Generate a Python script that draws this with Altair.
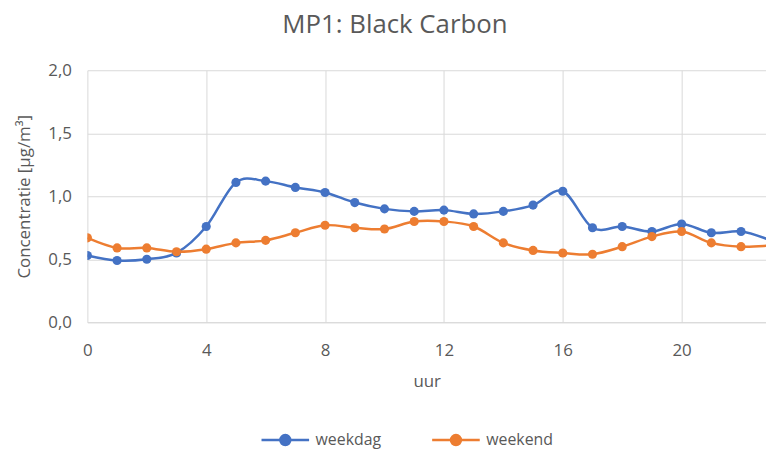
import altair as alt
import pandas as pd

hours = list(range(24))
weekdag = [0.53, 0.49, 0.50, 0.55, 0.76, 1.11, 1.12, 1.07, 1.03, 0.95, 0.90, 0.88,
           0.89, 0.86, 0.88, 0.93, 1.04, 0.75, 0.76, 0.72, 0.78, 0.71, 0.72, 0.65]
weekend = [0.67, 0.59, 0.59, 0.56, 0.58, 0.63, 0.65, 0.71, 0.77, 0.75, 0.74, 0.80,
           0.80, 0.76, 0.63, 0.57, 0.55, 0.54, 0.60, 0.68, 0.72, 0.63, 0.60, 0.61]
series = ["weekdag", "weekend"]
colors = ["#4472C4", "#ED7D31"]
x_ticks = [0, 4, 8, 12, 16, 20]
y_ticks = [0.0, 0.5, 1.0, 1.5, 2.0]

rows = []
for name, vals in zip(series, [weekdag, weekend]):
    for h, v in zip(hours, vals):
        rows.append({"uur": h, "waarde": v, "reeks": name})
df = pd.DataFrame(rows)

FONT = "Open Sans"
GREY = "#595959"

sym = "M-1,0L1,0M-0.21,0A0.21,0.21,0,1,0,0.21,0A0.21,0.21,0,1,0,-0.21,0Z"

x = alt.X("uur:Q", scale=alt.Scale(domain=[0, 22.84], nice=False, zero=False),
          axis=alt.Axis(values=x_ticks, title="uur", grid=True, ticks=False,
                        labelPadding=21, titlePadding=15, domain=True,
                        domainColor="#D9D9D9", labelFlush=False))
y = alt.Y("waarde:Q", scale=alt.Scale(domain=[0, 2.0], nice=False),
          axis=alt.Axis(values=y_ticks, title="Concentratie [µg/m³]", ticks=False,
                        labelPadding=16, titlePadding=14, domain=False,
                        labelExpr="replace(format(datum.value, '.1f'), '.', ',')"))
color = alt.Color("reeks:N", scale=alt.Scale(domain=series, range=colors),
                  legend=alt.Legend(title=None, orient="none", legendX=174, legendY=347,
                                    direction="horizontal", symbolType=sym,
                                    symbolSize=2300, symbolStrokeWidth=2.5,
                                    labelFontSize=16, labelColor=GREY, labelFont=FONT,
                                    labelOffset=5, columnPadding=45))

base = alt.Chart(df)
lines = base.mark_line(interpolate="cardinal", strokeWidth=2.5, clip=True).encode(
    x=x, y=y, color=color)
points = base.mark_circle(size=85, opacity=1, clip=True).encode(
    x=x, y=y, color=alt.Color("reeks:N", scale=alt.Scale(domain=series, range=colors), legend=None))

chart = alt.layer(lines, points).properties(
    width=684, height=254,
    autosize=alt.AutoSizeParams(type="none"),
    padding={"left": 80, "top": 61, "right": 0, "bottom": 127},
    title=alt.TitleParams("MP1: Black Carbon", fontSize=26, font=FONT, color=GREY,
                          fontWeight="normal", anchor="middle", dx=-32, offset=24),
).configure_axis(
    gridColor="#D9D9D9", labelFont=FONT, titleFont=FONT, labelColor=GREY,
    titleColor=GREY, labelFontSize=17, titleFontSize=17, titleFontWeight="normal",
).configure_view(stroke=None)

chart.save("out.html", embed_options={"renderer": "svg", "actions": False})
